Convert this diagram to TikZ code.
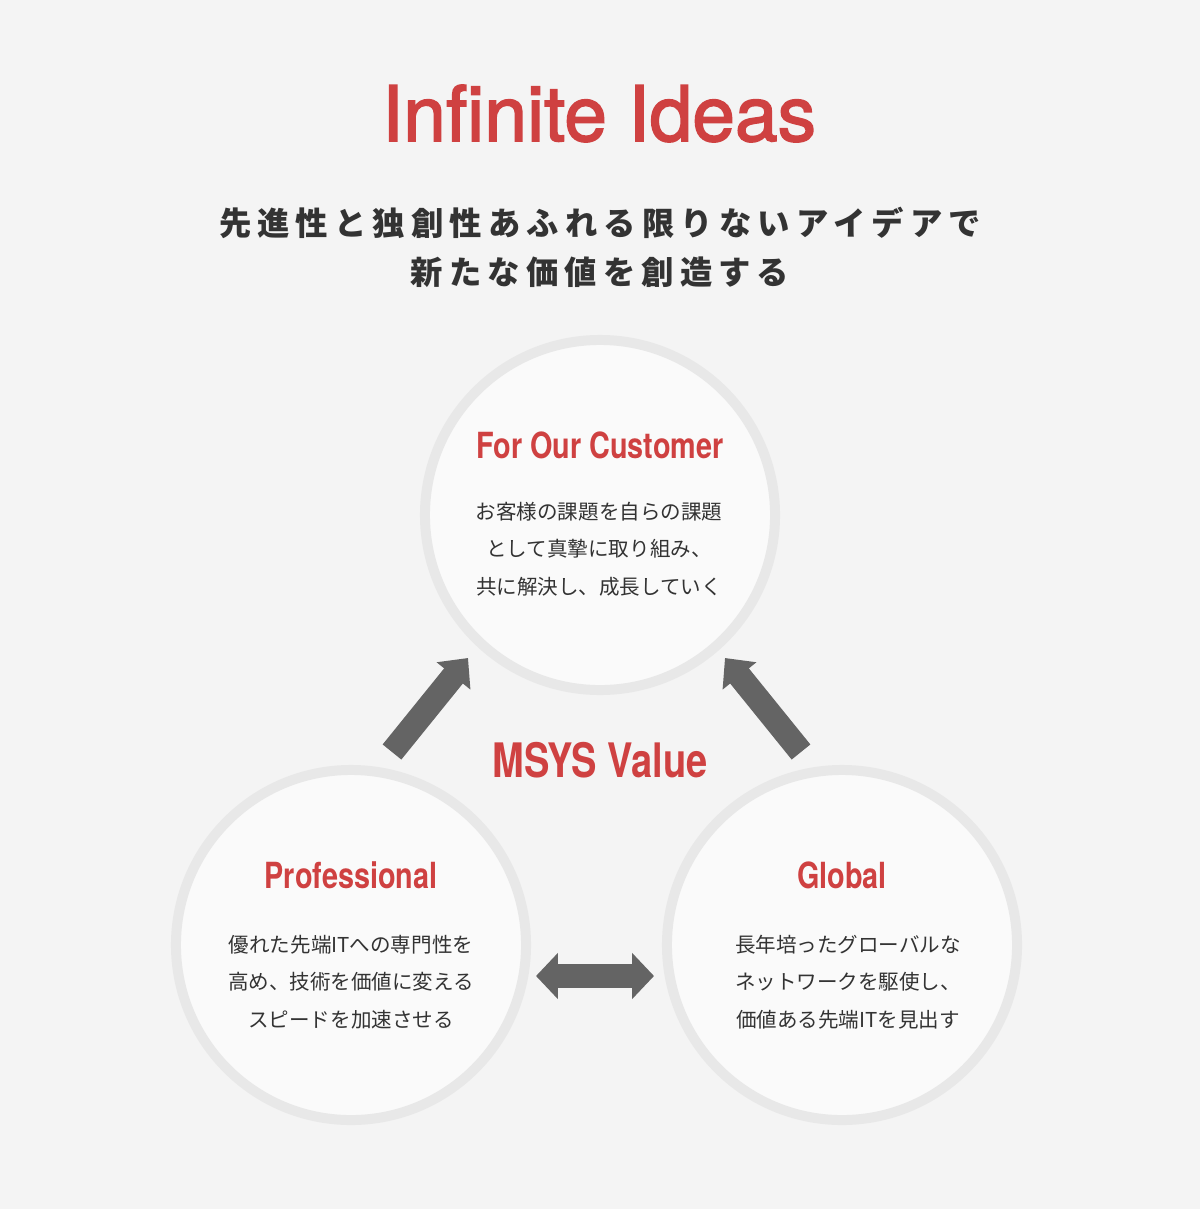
\documentclass[tikz,border=0pt]{standalone}
\usepackage{fontspec}
\usetikzlibrary{arrows.meta,positioning}
\setmainfont{TeX Gyre Heros}
\newfontfamily\titlefont[FakeBold=2]{TeX Gyre Heros}
\newfontfamily\condfont[FakeStretch=0.8]{TeX Gyre Heros}
\newfontfamily\jpfont{Noto Sans CJK JP}
\newfontfamily\jpsub[LetterSpace=19]{Noto Sans CJK JP}
\definecolor{bggray}{HTML}{F4F4F4}
\definecolor{ringgray}{HTML}{E8E8E8}
\definecolor{innerwhite}{HTML}{FAFAFA}
\definecolor{msysred}{HTML}{CF4141}
\definecolor{textgray}{HTML}{333333}
\definecolor{arrowgray}{HTML}{646464}
\tikzset{
    ring/.style={circle, draw=ringgray, line width=7.1pt, fill=innerwhite, minimum size=8.75cm, inner sep=0pt},
    headtext/.style={anchor=base, text=msysred, font=\condfont\bfseries\fontsize{25.6pt}{30pt}\selectfont},
    bodytext/.style={text=textgray, align=center, font=\jpfont\fontsize{14.6pt}{26.7pt}\selectfont},
    fatarrow/.style={draw=arrowgray, line width=17.1pt, -{Triangle[length=16.4pt,width=29.9pt]}}
}
\begin{document}
\begin{tikzpicture}[x=0.025cm,y=-0.025cm]
        \fill[bggray] (0,0) rectangle (1200,1209);
        \useasboundingbox (0,0) rectangle (1200,1209);
        \node (title) [anchor=base, text=msysred, font=\titlefont\fontsize{54.6pt}{60pt}\selectfont] at (599,141) {Infinite Ideas};
        \node (subtitle) [align=center, text=textgray, font=\jpsub\bfseries\fontsize{23pt}{34.9pt}\selectfont] at (600,247) {先進性と独創性あふれる限りないアイデアで\\新たな価値を創造する};

        \node (cust) [ring] at (600,515) {};
        \node (prof) [ring] at (351,945) {};
        \node (glob) [ring] at (842,945) {};

        \node (custhead) [headtext] at (600,458) {For Our Customer};
        \node (custtext) [bodytext] at (599,549) {お客様の課題を自らの課題\\として真摯に取り組み、\\共に解決し、成長していく};
        \node (profhead) [headtext] at (351,888) {Professional};
        \node (proftext) [bodytext] at (351,982) {優れた先端ITへの専門性を\\高め、技術を価値に変える\\スピードを加速させる};
        \node (globhead) [headtext] at (842,888) {Global};
        \node (globtext) [bodytext] at (848,982) {長年培ったグローバルな\\ネットワークを駆使し、\\価値ある先端ITを見出す};
        \node (value) [anchor=base, text=msysred, font=\condfont\bfseries\fontsize{33.8pt}{40pt}\selectfont] at (600,777) {MSYS Value};

        \coordinate (proftail) at (392,752);
        \coordinate (custleft) at (468,658);
        \coordinate (globtail) at (801,752);
        \coordinate (custright) at (725,658);
        \coordinate (profright) at (536,976);
        \coordinate (globleft) at (654,976);

        \draw[fatarrow] (proftail) -- (custleft);
        \draw[fatarrow] (globtail) -- (custright);
        \draw[fatarrow, {Triangle[length=15.6pt,width=32pt]}-{Triangle[length=15.6pt,width=32pt]}] (profright) -- (globleft);
\end{tikzpicture}
\end{document}
